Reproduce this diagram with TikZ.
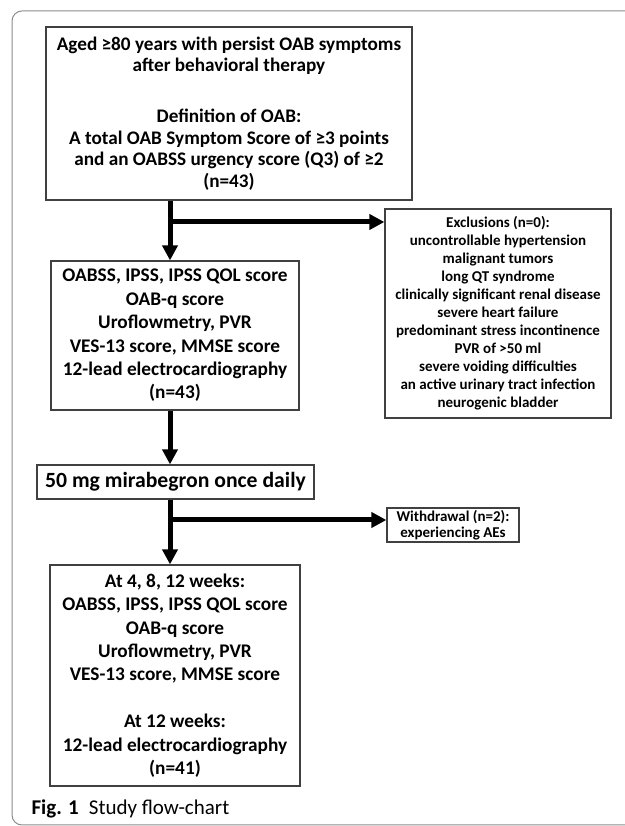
\documentclass[tikz,border=0pt]{standalone}
\usepackage{fontspec}
\setmainfont{Carlito}
\usetikzlibrary{arrows.meta}

\definecolor{boxgray}{HTML}{404040}
\definecolor{framegray}{HTML}{8C8C8C}

\tikzset{
	box/.style={draw=boxgray, line width=1.2pt, align=center, inner sep=0pt},
	flow/.style={line width=5pt, -{Triangle[length=15pt,width=15pt]}},
}

\begin{document}
\begin{tikzpicture}[x=1pt,y=1pt]

	\useasboundingbox (0,0) rectangle (624,826);
	\draw[framegray, line width=1pt, rounded corners=10pt] (640,815) -- (12,815) -- (12,1) -- (640,1);

	\node[box, minimum width=366pt, minimum height=173pt, font=\fontsize{19.2}{21.6}\selectfont\bfseries] (entry) at (229,712.5)
		{Aged ≥80 years with persist OAB symptoms\\after behavioral therapy\\[29.4pt]Definition of OAB:\\A total OAB Symptom Score of ≥3 points\\and an OABSS urgency score (Q3) of ≥2\\(n=43)};
	\node[box, minimum width=248pt, minimum height=149pt, font=\fontsize{19.3}{23.4}\selectfont\bfseries] (baseline) at (175,490.5)
		{OABSS, IPSS, IPSS QOL score\\OAB-q score\\Uroflowmetry, PVR\\VES-13 score, MMSE score\\12-lead electrocardiography\\(n=43)};
	\node[box, minimum width=277pt, minimum height=34pt, font=\fontsize{21.7}{26}\selectfont\bfseries] (drug) at (175.5,344)
		{50 mg mirabegron once daily};
	\node[box, minimum width=250pt, minimum height=221pt, font=\fontsize{19.3}{23.4}\selectfont\bfseries] (followup) at (175,150.5)
		{At 4, 8, 12 weeks:\\OABSS, IPSS, IPSS QOL score\\OAB-q score\\Uroflowmetry, PVR\\VES-13 score, MMSE score\\[23.4pt]At 12 weeks:\\12-lead electrocardiography\\(n=41)};
	\node[box, minimum width=226pt, minimum height=209pt, font=\fontsize{15}{18}\selectfont\bfseries] (excl) at (498,512.5)
		{Exclusions (n=0):\\uncontrollable hypertension\\malignant tumors\\long QT syndrome\\clinically significant renal disease\\severe heart failure\\predominant stress incontinence\\PVR of >50 ml\\severe voiding difficulties\\an active urinary tract infection\\neurogenic bladder};
	\node[box, minimum width=132pt, minimum height=34pt, font=\fontsize{15}{16}\selectfont\bfseries] (withdraw) at (453,301)
		{Withdrawal (n=2):\\experiencing AEs};

	\coordinate (spine) at (170,0);
	\coordinate (split1) at (170,604);
	\coordinate (split2) at (170,306);

	\draw[flow] (spine |- entry.south) -- (spine |- baseline.north);
	\draw[flow] (split1) -- (split1 -| excl.west);
	\draw[flow] (spine |- baseline.south) -- (spine |- drug.north);
	\draw[flow] (spine |- drug.south) -- (spine |- followup.north);
	\draw[flow] (split2) -- (split2 -| withdraw.west);

	\node[anchor=base west, font=\fontsize{21}{25}\selectfont] (caption) at (28,12)
		{\textbf{Fig. 1}\hspace{10pt}Study flow-chart};

\end{tikzpicture}
\end{document}
